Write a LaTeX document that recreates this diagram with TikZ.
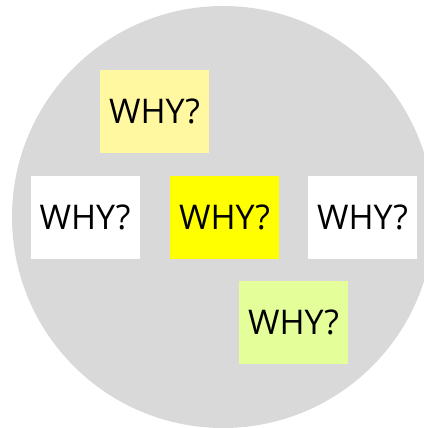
\documentclass[tikz,border=0pt]{standalone}
\usepackage{fontspec}
\setmainfont{Open Sans}
\usepackage{tikz}
\usetikzlibrary{positioning}
\definecolor{whybg}{RGB}{217,217,217}
\definecolor{whypale}{RGB}{255,248,160}
\definecolor{whyyellow}{RGB}{255,255,0}
\definecolor{whylime}{RGB}{228,255,154}

\begin{document}
\begin{tikzpicture}[x=1pt,y=-1pt,
    whybox/.style={inner sep=0pt,minimum width=109pt,minimum height=83pt,
          font=\fontsize{34}{40}\selectfont}]
    % fundo circular
    \useasboundingbox (0,0) rectangle (423,428);
    \fill[whybg] (223,217) circle (211);
    \node[whybox,fill=whypale] (top) at (154.5,111.5) {WHY?};
    \node[whybox,fill=white] (left) at (85,217) {WHY?};
    \node[whybox,fill=whyyellow] (centre) at (224.5,217) {WHY?};
    \node[whybox,fill=white] (right) at (362.5,217) {WHY?};
    \node[whybox,fill=whylime] (bottom) at (293.5,322) {WHY?};
  \end{tikzpicture}
\end{document}
